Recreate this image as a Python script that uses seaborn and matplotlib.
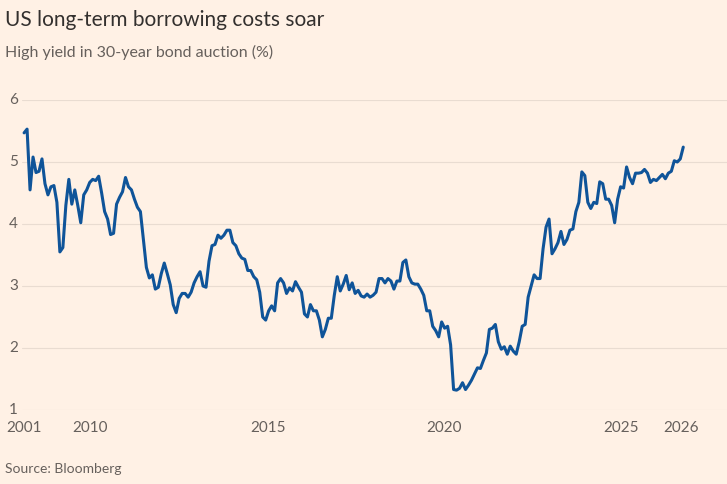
import matplotlib
matplotlib.use("Agg")
import matplotlib.pyplot as plt
import matplotlib.transforms as mtransforms
import seaborn as sns
import numpy as np

seg1 = [5.47,5.53,4.55,5.08,4.83,4.85,5.05,4.65,4.47,4.6,4.62,4.35,3.55,3.62,4.3,4.72,4.32,4.55,4.3,4.02,
        4.47,4.55,4.67,4.72,4.7,4.77,4.5,4.2,4.08,3.83,3.85,4.32,4.43,4.52,4.75,4.6,4.55,4.4,4.27,4.2,
        3.75,3.3,3.13,3.18,2.95,2.98,3.2,3.37,3.2,3.02,2.7,2.57,2.8,2.88,2.88,2.82,2.9,3.05,3.15,3.23,
        3.0,2.98,3.4,3.65,3.67,3.82,3.77,3.82,3.9,3.9,3.7,3.65,3.52,3.45,3.43]
seg2 = [3.25,3.25,3.15,3.1,2.9,2.5,2.45,2.6,2.68,2.6,3.05,3.12,3.05,2.88,2.97,2.92,3.07,2.98,2.9,2.55,
        2.5,2.7,2.6,2.6,2.45,2.18,2.3,2.48,2.48,2.85,3.15,2.92,3.03,3.17,2.94,3.05,2.88,2.93,2.84,2.82,
        2.87,2.82,2.85,2.9,3.12,3.12,3.05,3.12,3.08,2.95,3.08,3.08,3.38,3.42,3.15,3.05,3.03,3.03,2.95,2.85,
        2.6,2.6,2.35,2.28,2.18,2.42,2.32,2.35,2.05,1.33,1.32,1.35,1.44,1.33,1.4,1.48,1.58,1.68]
seg3 = [1.67,1.8,1.92,2.3,2.32,2.38,2.1,1.98,2.02,1.9,2.03,1.95,1.9,2.1,2.35,2.38,2.82,3.0,3.18,3.12,
        3.12,3.6,3.95,4.08,3.52,3.6,3.7,3.88,3.67,3.75,3.9,3.92,4.2,4.35,4.84,4.78,4.35,4.25,4.35,4.33,
        4.68,4.65,4.4,4.4,4.3,4.02,4.4,4.6,4.58,4.92,4.75,4.65,4.82,4.82,4.83,4.88,4.82,4.67,4.72,4.7,
        4.75,4.8,4.73,4.82,4.85,5.02,5.0,5.05,5.24]
yields = seg1 + seg2 + seg3
tick_labels = ["2001", "2010", "2015", "2020", "2025", "2026"]
tick_frac = [0.0, 0.1, 0.37, 0.637, 0.906, 0.997]
y_ticks = [1, 2, 3, 4, 5, 6]

BG = "#FFF1E5"
N = len(yields)
idx = np.arange(N)

sns.set_theme(style="white")
plt.rcParams['font.family'] = ['Lato', 'DejaVu Sans']
fig = plt.figure(figsize=(7.27, 4.84), dpi=100, facecolor=BG)
ax = fig.add_axes([22/727, 1-410/484, 705/727, 310/484], facecolor=BG)

sns.lineplot(x=idx, y=yields, ax=ax, color="#0F5499", linewidth=2.2)

ax.set_ylim(1, 6)
ax.set_xlim(-0.7, (N-1) + 44/3)
ax.set_yticks(y_ticks)
ax.set_yticklabels([])
ax.yaxis.grid(True, color="#E9DCD1", linewidth=0.8)
ax.set_axisbelow(True)
ax.set_xticks([f*(N-1) for f in tick_frac])
ax.set_xticklabels(tick_labels)
for s in ax.spines.values():
    s.set_visible(False)
ax.tick_params(axis="y", length=0)
ax.tick_params(axis="x", length=0, pad=8, labelsize=11, labelcolor="#66605C")

trans = mtransforms.blended_transform_factory(fig.transFigure, ax.transData)
for v in y_ticks:
    ax.text(9/727, v, str(v), transform=trans, fontsize=11, color="#66605C",
            ha="left", va="center", clip_on=False)

fig.text(5/727, 1-20/484, "US long-term borrowing costs soar", fontsize=15, color="#33302E", va="center")
fig.text(5/727, 1-52/484, "High yield in 30-year bond auction (%)", fontsize=11.5, color="#66605C", va="center")
fig.text(5/727, 1-469/484, "Source: Bloomberg", fontsize=10, color="#66605C", va="center")

fig.savefig("out.png", dpi=100, facecolor=BG)
